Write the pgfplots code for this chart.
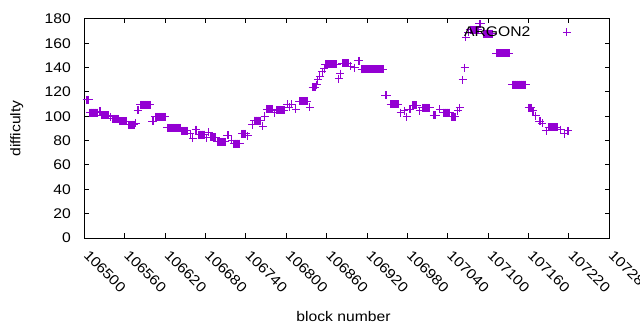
\documentclass[border=0pt]{standalone}
\usepackage{fontspec}
\setmainfont{Liberation Sans}[FakeStretch=1.12]
\usepackage{pgfplots}
\usepackage{pgfplotstable}
\pgfplotsset{compat=1.18}
\definecolor{dv}{RGB}{148,0,211}
\pgfplotstableread{
x y
106503 113.5
106504 113.5
106505 113.5
106506 113.5
106508 103
106509 103
106510 103
106511 103
106512 103
106513 103
106514 103
106515 103
106516 103
106517 103
106518 103
106519 103
106520 103
106523 104
106524 104
106526 101
106527 101
106528 101
106529 101
106530 101
106531 101
106532 101
106533 101
106534 101
106535 101
106538 99.5
106541 98
106542 98
106543 98
106544 98
106545 98
106546 98
106547 98
106548 98
106549 98
106550 98
106551 98
106552 96
106553 96
106554 96
106555 96
106556 96
106557 96
106558 96
106559 96
106560 96
106561 96
106562 96
106563 96
106565 93
106566 93
106567 93
106568 93
106569 93
106570 93
106571 93
106572 93
106573 93
106574 93
106576 94.5
106579 105
106580 105
106583 109.5
106584 109.5
106585 109.5
106586 109.5
106587 109.5
106588 109.5
106589 109.5
106590 109.5
106591 109.5
106592 109.5
106593 109.5
106594 109.5
106595 109.5
106596 109.5
106597 109.5
106598 109.5
106601 96
106602 96
106605 99.5
106606 99.5
106607 99.5
106608 99.5
106609 99.5
106610 99.5
106611 99.5
106612 99.5
106613 99.5
106614 99.5
106615 99.5
106616 99.5
106617 99.5
106618 99.5
106619 99.5
106620 99.5
106623 90.5
106624 90.5
106625 90.5
106626 90.5
106627 90.5
106628 90.5
106629 90.5
106630 90.5
106631 90.5
106632 90.5
106633 90.5
106634 90.5
106635 90.5
106636 90.5
106637 90.5
106638 90.5
106639 90.5
106640 90.5
106641 90.5
106642 90.5
106644 88
106645 88
106646 88
106647 88
106648 88
106649 88
106650 88
106651 88
106652 88
106653 88
106657 85.5
106661 82
106665 89
106666 89
106670 85
106671 85
106672 85
106673 85
106674 85
106675 85
106676 85
106677 85
106678 85
106679 85
106682 82.5
106685 87
106688 83
106689 83
106690 83
106691 83
106692 83
106693 83
106694 83
106695 83
106697 79
106698 79
106699 79
106700 79
106701 79
106702 79
106703 79
106704 79
106705 79
106706 79
106707 79
106708 79
106709 79
106712 84.5
106713 84.5
106714 84.5
106719 80.5
106722 77.5
106723 77.5
106724 77.5
106725 77.5
106726 77.5
106727 77.5
106728 77.5
106729 77.5
106730 77.5
106731 77.5
106734 85.5
106735 85.5
106736 85.5
106737 85.5
106738 85.5
106739 85.5
106740 85.5
106743 84
106749 93
106752 96.5
106753 96.5
106754 96.5
106755 96.5
106756 96.5
106757 96.5
106758 96.5
106759 96.5
106760 96.5
106761 96.5
106762 96.5
106765 92
106768 100
106771 106
106772 106
106773 106
106774 106
106775 106
106776 106
106777 106
106778 106
106779 106
106780 106
106783 103
106786 105
106787 105
106788 105
106789 105
106790 105
106791 105
106792 105
106793 105
106794 105
106795 105
106796 105
106797 105
106801 110
106804 107.5
106808 110
106814 106
106819 112.5
106820 112.5
106821 112.5
106822 112.5
106823 112.5
106824 112.5
106825 112.5
106826 112.5
106827 112.5
106828 112.5
106829 112.5
106830 112.5
106831 112.5
106835 107.5
106839 124
106840 124
106841 124
106842 124
106843 124
106845 126
106847 130
106850 133
106853 136.5
106856 139
106858 143
106859 143
106860 143
106861 143
106862 143
106863 143
106864 143
106865 143
106866 143
106867 143
106868 143
106869 143
106870 143
106871 143
106872 143
106873 143
106874 143
106875 143
106878 131
106880 135
106883 143.5
106884 143.5
106885 143.5
106886 143.5
106887 143.5
106888 143.5
106889 143.5
106890 143.5
106891 143.5
106892 143.5
106896 141
106901 140
106902 140
106907 145.5
106908 145.5
106912 138.5
106913 138.5
106914 138.5
106915 138.5
106916 138.5
106917 138.5
106918 138.5
106919 138.5
106920 138.5
106921 138.5
106922 138.5
106923 138.5
106924 138.5
106925 138.5
106926 138.5
106927 138.5
106928 138.5
106929 138.5
106930 138.5
106931 138.5
106932 138.5
106933 138.5
106934 138.5
106935 138.5
106936 138.5
106937 138.5
106938 138.5
106939 138.5
106940 138.5
106941 138.5
106942 138.5
106943 138.5
106944 138.5
106947 117.5
106948 117.5
106949 117.5
106955 110
106956 110
106957 110
106958 110
106959 110
106960 110
106961 110
106962 110
106963 110
106964 110
106965 110
106966 110
106970 103
106975 104.5
106979 99.5
106983 106
106984 106
106988 109
106989 109
106990 109
106991 109
106992 109
106993 109
106994 109
106998 104.5
107002 107
107003 107
107004 107
107005 107
107006 107
107007 107
107008 107
107009 107
107010 107
107011 107
107012 107
107013 107
107019 101
107020 101
107021 101
107022 101
107028 106
107033 103
107034 103
107035 103
107036 103
107037 103
107038 103
107039 103
107040 103
107041 103
107042 103
107043 103
107046 99.5
107047 99.5
107048 99.5
107049 99.5
107050 99.5
107051 99.5
107055 104.5
107058 107
107062 130
107065 140
107067 165
107070 169
107073 171
107074 171
107075 171
107076 171
107077 171
107078 171
107079 171
107080 171
107081 171
107082 171
107083 171
107084 171
107085 171
107087 176
107088 176
107089 176
107093 168
107094 168
107095 168
107096 168
107097 168
107098 168
107099 168
107100 168
107101 168
107102 168
107103 168
107104 168
107105 168
107106 168
107107 168
107112 152
107113 152
107114 152
107115 152
107116 152
107117 152
107118 152
107119 152
107120 152
107121 152
107122 152
107123 152
107124 152
107125 152
107126 152
107127 152
107128 152
107129 152
107130 152
107131 152
107136 126
107137 126
107138 126
107139 126
107140 126
107141 126
107142 126
107143 126
107144 126
107145 126
107146 126
107147 126
107148 126
107149 126
107150 126
107151 126
107152 126
107153 126
107154 126
107155 126
107156 126
107160 107
107161 107
107162 107
107163 107
107164 107
107166 104.5
107167 104.5
107171 100.5
107176 96
107177 96
107180 94.5
107186 88
107190 91
107191 91
107192 91
107193 91
107194 91
107195 91
107196 91
107197 91
107198 91
107199 91
107200 91
107201 91
107202 91
107203 91
107208 89
107213 85.5
107214 85.5
107218 88
107219 88
}\argon
\begin{document}
\begin{tikzpicture}[font=\fontsize{14bp}{16bp}\selectfont]
\useasboundingbox (0,0) rectangle (640bp,330bp);
\begin{axis}[
  at={(84.5bp,92bp)}, anchor=south west,
  scale only axis, width=524.8bp, height=219bp,
  xmin=106500, xmax=107280, ymin=0, ymax=180,
  xtick={106500,106560,106620,106680,106740,106800,106860,106920,106980,107040,107100,107160,107220,107280},
  xticklabels={106500,106560,106620,106680,106740,106800,106860,106920,106980,107040,107100,107160,107220,107280},
  ytick={0,20,40,60,80,100,120,140,160,180},
  yticklabels={0,20,40,60,80,100,120,140,160,180},
  scaled x ticks=false,
  tick align=inside, tick pos=both,
  major tick length=4.5bp,
  tick style={black, line width=1bp},
  axis line style={line width=1bp},
  xticklabel style={xshift=5.5bp, yshift=-11bp, rotate=-45, anchor=north west, inner sep=0pt},
  yticklabel style={anchor=east, inner sep=0pt, xshift=-13.5bp},
  xlabel={block number},
  ylabel={difficulty},
  xlabel style={at={(rel axis cs:0.4935,-0.3607)}, anchor=center, inner sep=0pt},
  ylabel style={at={(rel axis cs:-0.1292,0.5)}, anchor=center, inner sep=0pt},
  legend plot pos=right,
  legend cell align=right,
  legend style={draw=none, fill=none, inner sep=0pt, column sep=0pt, nodes={inner sep=0pt},
    at={(rel axis cs:0.927,0.9406)}, anchor=east},
  legend image code/.code={\path (0bp,0bp); \draw[#1] plot coordinates {(36bp,0bp)};},
]
\addplot[only marks, mark=+, mark size=4bp, color=dv, line width=1bp] table[x=x,y=y] {\argon};
\addlegendentry{ARGON2}
\end{axis}
\end{tikzpicture}
\end{document}
